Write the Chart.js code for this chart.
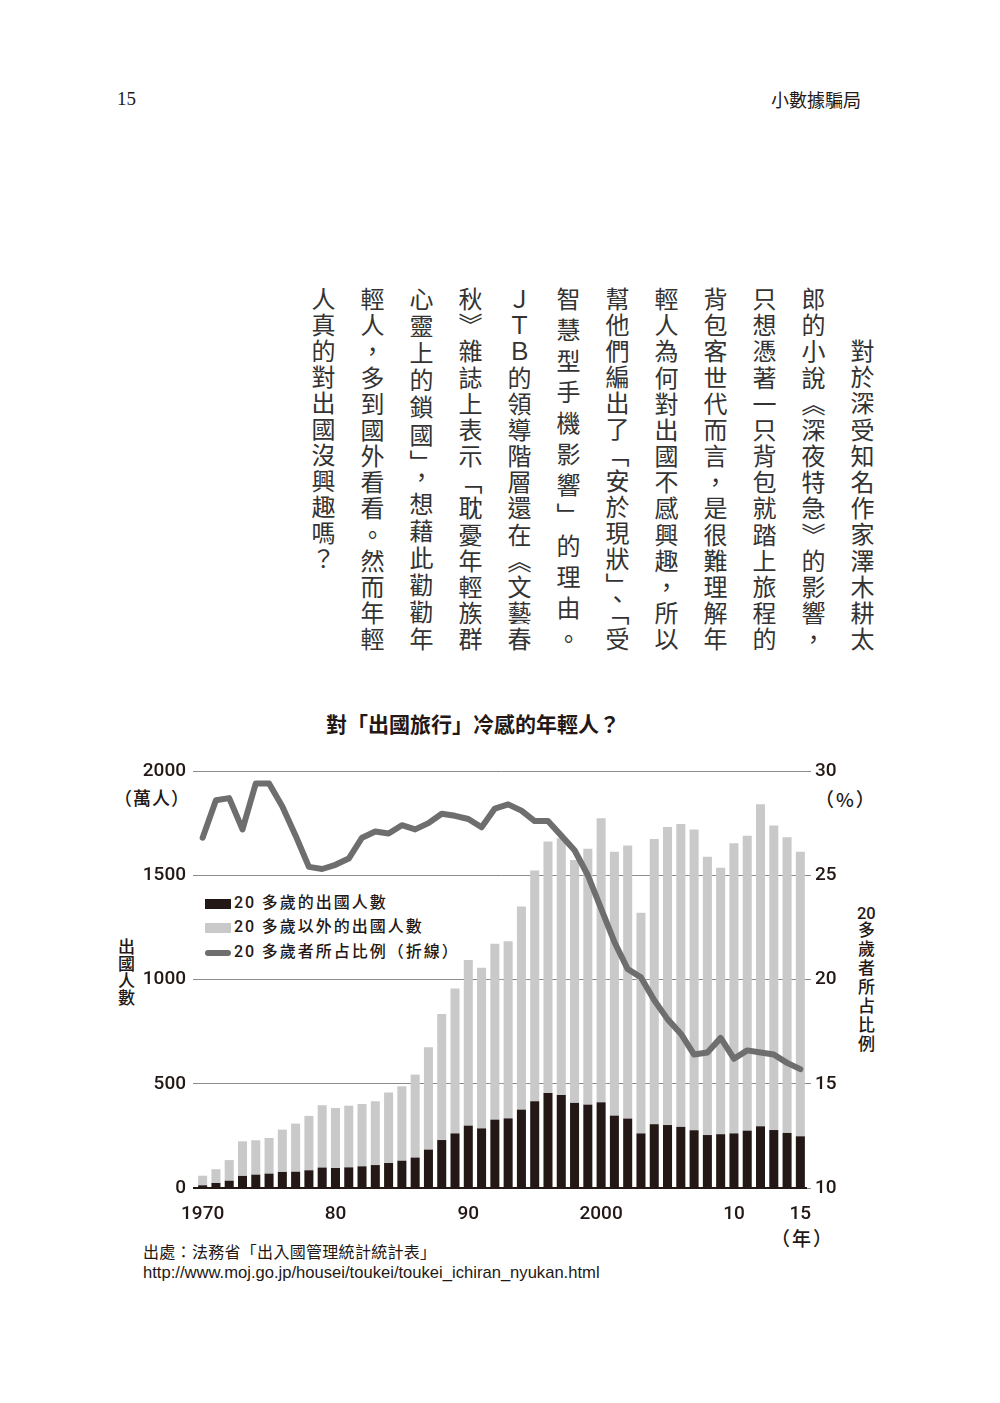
<!DOCTYPE html>
<html lang="zh-Hant">
<head>
<meta charset="utf-8">
<script src="https://cdn.jsdelivr.net/npm/chart.js@4.4.1/dist/chart.umd.min.js"></script>
<style>
body{margin:0;background:#fff;}
#page{position:relative;width:1000px;height:1403px;overflow:hidden;color:#231815;font-family:"Noto Sans CJK TC",sans-serif;}
.abs{position:absolute;white-space:nowrap;}
.col{position:absolute;top:287px;height:364px;width:30px;writing-mode:vertical-rl;font-size:24px;line-height:30px;
     text-align:justify;text-align-last:justify;white-space:nowrap;color:#333;}
.num{font-family:Roboto,sans-serif;font-weight:500;}
.lg{position:absolute;left:205px;font-size:16px;font-weight:500;letter-spacing:2px;line-height:20px;white-space:nowrap;}
.lg i{display:inline-block;width:26px;margin-right:3px;vertical-align:middle;}
</style>
</head>
<body>
<div id="page">
  <div class="abs" style="left:117px;top:88px;font-family:'Liberation Serif',serif;font-size:19px;">15</div>
  <div class="abs" style="left:771px;top:86px;font-size:18px;">小數據騙局</div>

  <div id="text"></div>

  <div class="abs" style="left:0;width:946px;top:708px;text-align:center;font-size:21px;font-weight:bold;">對「出國旅行」冷感的年輕人？</div>

  <div class="abs" style="left:114px;top:784px;font-size:18px;font-weight:500;letter-spacing:1px;">（萬人）</div>
  <div class="abs" style="left:815px;top:785px;font-size:19px;font-weight:500;letter-spacing:2px;">（%）</div>
  <div class="abs" style="left:771px;top:1224px;font-size:19px;font-weight:500;letter-spacing:2px;">（年）</div>

  <div class="abs" style="left:117px;top:938px;writing-mode:vertical-rl;font-size:17px;line-height:18px;font-weight:500;">出國人數</div>
  <div class="abs" style="left:856px;top:904px;writing-mode:vertical-rl;font-size:17px;line-height:20px;letter-spacing:2px;font-weight:500;"><span style="text-combine-upright:all;font-family:Roboto,sans-serif;">20</span>多歲者所占比例</div>

  <div class="lg" style="top:891px;"><i style="height:10px;background:#231815;"></i><span class="num">20</span> 多歲的出國人數</div>
  <div class="lg" style="top:915px;"><i style="height:10px;background:#c9c9c9;"></i><span class="num">20</span> 多歲以外的出國人數</div>
  <div class="lg" style="top:940px;"><i style="height:6px;border-radius:3px;background:#6e6e6e;"></i><span class="num">20</span> 多歲者所占比例（折線）</div>

  <div class="abs" style="left:143px;top:1239px;font-size:16px;letter-spacing:0.3px;">出處：法務省「出入國管理統計統計表」</div>
  <div class="abs" style="left:143px;top:1263px;font-size:16.6px;font-family:'Liberation Sans Narrow','Liberation Sans',sans-serif;">http://www.moj.go.jp/housei/toukei/toukei_ichiran_nyukan.html</div>

  <canvas id="chart" width="1000" height="485" style="position:absolute;left:0;top:740px;"></canvas>
</div>
<script>
// body text columns, right to left
const columns = [
  "對於深受知名作家澤木耕太",
  "郎的小說《深夜特急》的影響，",
  "只想憑著一只背包就踏上旅程的",
  "背包客世代而言，是很難理解年",
  "輕人為何對出國不感興趣，所以",
  "幫他們編出了「安於現狀」、「受",
  "智慧型手機影響」的理由。",
  "ＪＴＢ的領導階層還在《文藝春",
  "秋》雜誌上表示「耽憂年輕族群",
  "心靈上的鎖國」，想藉此勸勸年",
  "輕人，多到國外看看。然而年輕",
  "人真的對出國沒興趣嗎？"
];
const textDiv = document.getElementById('text');
columns.forEach((t, i) => {
  const d = document.createElement('div');
  d.className = 'col';
  d.textContent = t;
  d.style.left = (847 - i * 49) + 'px';
  if (i === 0) { d.style.top = '339px'; d.style.height = '312px'; }
  if (i === columns.length - 1) { d.style.textAlignLast = 'start'; d.style.letterSpacing = '2px'; }
  textDiv.appendChild(d);
});

// data (萬人 / %)
const years = [1970,1971,1972,1973,1974,1975,1976,1977,1978,1979,
               1980,1981,1982,1983,1984,1985,1986,1987,1988,1989,
               1990,1991,1992,1993,1994,1995,1996,1997,1998,1999,
               2000,2001,2002,2003,2004,2005,2006,2007,2008,2009,
               2010,2011,2012,2013,2014,2015];
const twenties = [13,24,35,58,64,69,77,78,85,98,
                  96,99,104,110,120,131,146,184,230,262,
                  299,286,328,334,376,416,456,446,408,400,
                  411,347,333,262,306,302,293,277,254,258,
                  262,275,296,278,264,248];
const others = [46,66,99,166,165,171,203,231,261,299,
                288,296,299,306,338,357,398,491,605,695,
                794,770,843,850,974,1107,1206,1231,1165,1227,
                1362,1266,1310,1058,1368,1429,1453,1443,1335,1278,
                1392,1415,1544,1461,1418,1365];
const share = [26.8,28.6,28.7,27.2,29.4,29.4,28.3,26.9,25.4,25.3,
               25.5,25.8,26.8,27.1,27.0,27.4,27.2,27.5,27.95,27.85,
               27.7,27.3,28.2,28.4,28.1,27.6,27.6,26.9,26.2,25.0,
               23.4,21.8,20.5,20.1,19.0,18.1,17.4,16.4,16.5,17.2,
               16.2,16.6,16.5,16.4,16.0,15.7];
const xTickLabels = {1970:'1970',1980:'80',1990:'90',2000:'2000',2010:'10',2015:'15'};

const ink = '#231815';
const tickFont = {family:'Roboto', size:19, weight:'500'};

new Chart(document.getElementById('chart'), {
  type: 'bar',
  data: {
    labels: years,
    datasets: [
      {type:'line', label:'20 多歲者所占比例（折線）', data:share, yAxisID:'y1', order:0,
       borderColor:'#6e6e6e', borderWidth:6, pointRadius:0, fill:false, tension:0,
       borderJoinStyle:'round', borderCapStyle:'round'},
      {label:'20 多歲的出國人數', data:twenties, backgroundColor:ink, yAxisID:'y', order:1,
       barPercentage:0.68, categoryPercentage:1},
      {label:'20 多歲以外的出國人數', data:others, backgroundColor:'#c9c9c9', yAxisID:'y', order:1,
       barPercentage:0.68, categoryPercentage:1}
    ]
  },
  options: {
    responsive:false,
    animation:false,
    layout:{padding:{top:31, left:0, right:0, bottom:0}},
    plugins:{legend:{display:false}, tooltip:{enabled:false}},
    scales:{
      x:{
        stacked:true,
        grid:{display:false, drawTicks:false},
        border:{display:false},
        ticks:{autoSkip:false, maxRotation:0, minRotation:0, padding:15, color:ink, font:tickFont,
               callback:(v, i) => xTickLabels[years[i]] || ''},
        afterFit:s => { s.height = 37; }
      },
      y:{
        stacked:true, position:'left', min:0, max:2000,
        ticks:{stepSize:500, padding:7, color:ink, font:tickFont, callback:v => String(v)},
        grid:{tickLength:3,
              color:c => c.tick && c.tick.value === 0 ? ink : '#8c8c8c',
              lineWidth:c => c.tick && c.tick.value === 0 ? 2 : 1},
        border:{display:false},
        afterFit:s => { s.width = 196; }
      },
      y1:{
        position:'right', min:10, max:30,
        ticks:{stepSize:5, padding:4, color:ink, font:tickFont, callback:v => String(v)},
        grid:{drawOnChartArea:false, tickLength:4, color:'#8c8c8c'},
        border:{display:false},
        afterFit:s => { s.width = 193; }
      }
    }
  }
});
</script>
</body>
</html>
